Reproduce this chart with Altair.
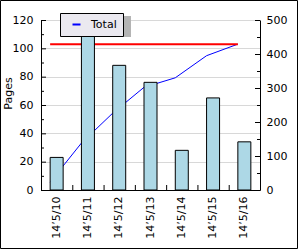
import altair as alt
import pandas as pd

dates = ["14’5/10", "14’5/11", "14’5/12", "14’5/13", "14’5/14", "14’5/15", "14’5/16"]
pages = [23, 115, 88, 76, 28, 65, 34]
total = [23, 138, 226, 302, 330, 395, 429]
target = 429
left_major = [0, 20, 40, 60, 80, 100, 120]
left_minor = [10, 30, 50, 70, 90, 110]
right_major = [0, 100, 200, 300, 400, 500]
right_minor = [50, 150, 250, 350, 450]

FONT = "DejaVu Sans"
BAND = 0.292

df = pd.DataFrame({
    "date": dates,
    "pages": pages,
    "total": total,
    "target": [target] * len(dates),
    "series": ["Total"] * len(dates),
})

xscale = alt.Scale(domain=dates, paddingInner=0, paddingOuter=0)
xaxis = alt.Axis(title=None, labelAngle=-90, ticks=False, domain=True,
                 domainColor="black", labelPadding=6, labelColor="black",
                 labelFont=FONT, labelFontSize=11, grid=False)

lscale = alt.Scale(domain=[0, 120], nice=False, zero=True)
rscale = alt.Scale(domain=[0, 500], nice=False, zero=True)
laxis = alt.Axis(orient="left", values=left_major, ticks=False, grid=True,
                 gridColor="#d8d8d8", domainColor="black", labelPadding=8,
                 labelColor="black", labelFont=FONT, labelFontSize=11,
                 title="Pages", titleFont=FONT, titleFontSize=11,
                 titleFontWeight="normal", titleColor="black",
                 titleX=-28, titleY=73, titleAngle=270)
raxis = alt.Axis(orient="right", values=right_major, ticks=False, grid=False,
                 domainColor="black", labelPadding=6, labelColor="black",
                 labelFont=FONT, labelFontSize=11, title=None)


def X(band=0.5):
    return alt.X("date:N", sort=dates, scale=xscale, axis=xaxis, bandPosition=band)


def YL(f):
    return alt.Y(f + ":Q", scale=lscale, axis=laxis)


def YR(f):
    return alt.Y(f + ":Q", scale=rscale, axis=raxis)


base = alt.Chart(df)

blue = base.mark_line(strokeWidth=1).encode(
    x=X(BAND), y=YR("total"),
    color=alt.Color("series:N", scale=alt.Scale(domain=["Total"], range=["#0000ff"]),
                    legend=alt.Legend(title=None, orient="none", legendX=19, legendY=-7,
                                      fillColor="#ebe9f0", strokeColor="black",
                                      padding=6, symbolType="stroke",
                                      symbolStrokeWidth=2, symbolSize=64,
                                      symbolOffset=5, labelOffset=9,
                                      labelFont=FONT, labelFontSize=11,
                                      labelColor="black")),
)
red = base.mark_line(color="#ff0000", strokeWidth=2).encode(x=X(BAND), y=YR("target"))
rmaj = alt.Chart(pd.DataFrame({"v": right_major})).mark_rule(color="black", yOffset=0.5).encode(
    y=YR("v"), x=alt.value(214), x2=alt.value(219))
rmin = alt.Chart(pd.DataFrame({"v": right_minor})).mark_rule(color="black", yOffset=0.5).encode(
    y=YR("v"), x=alt.value(216), x2=alt.value(219))
right = alt.layer(blue, red, rmaj, rmin)

bars = base.mark_bar(size=13, color="#add8e6", stroke="black", strokeWidth=1).encode(
    x=X(), y=YL("pages"))
lmaj = alt.Chart(pd.DataFrame({"v": left_major})).mark_rule(color="black", yOffset=0.5).encode(
    y=YL("v"), x=alt.value(0), x2=alt.value(5))
lmin = alt.Chart(pd.DataFrame({"v": left_minor})).mark_rule(color="black", yOffset=0.5).encode(
    y=YL("v"), x=alt.value(0), x2=alt.value(3))
left = alt.layer(bars, lmaj, lmin)

xt = base.mark_rule(color="black", xOffset=0.5).encode(
    x=X(0), y=alt.value(165), y2=alt.value(170))

one = alt.Chart(pd.DataFrame({"a": [0]}))
shadow = one.mark_rect(color="#b4b4b4").encode(
    x=alt.value(22), x2=alt.value(90), y=alt.value(-4), y2=alt.value(17))
border = one.mark_rect(fillOpacity=0, stroke="black", strokeWidth=1).encode(
    x=alt.value(-40.5), x2=alt.value(256.5), y=alt.value(-19.5), y2=alt.value(228.5))

chart = alt.layer(right, left, xt, shadow, border).resolve_scale(y="independent").properties(
    width=219, height=170,
    padding={"left": 41, "top": 20, "right": 40, "bottom": 60},
    autosize=alt.AutoSizeParams(type="none"),
    background="white",
).configure_view(stroke=None)

chart.save("out.html", embed_options={"renderer": "svg", "actions": False})
